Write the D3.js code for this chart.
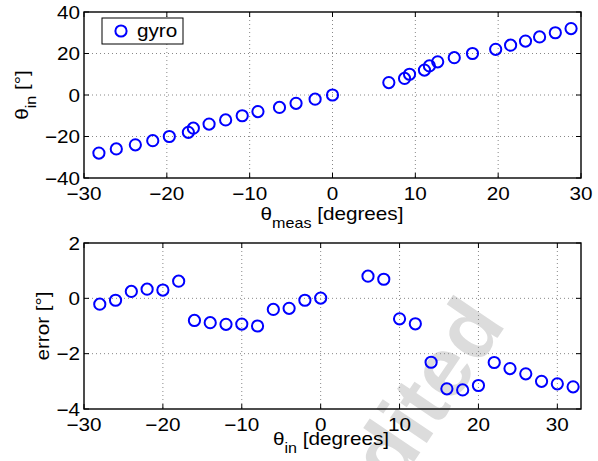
<!DOCTYPE html>
<html>
<head>
<meta charset="utf-8">
<script src="https://cdn.jsdelivr.net/npm/d3@7"></script>
<style>
  html, body { margin: 0; padding: 0; background: #fff; }
  svg { display: block; }
  text { font-family: "Liberation Sans", Arial, Helvetica, sans-serif; fill: #000; }
</style>
</head>
<body>
<svg id="chart" width="598" height="461"></svg>
<script>
// ---- data ----
const thetaIn = [-28,-26,-24,-22,-20,-18,-16,-14,-12,-10,-8,-6,-4,-2,0,6,8,10,12,14,16,18,20,22,24,26,28,30,32];
const thetaMeas = [-28.2,-26.1,-23.8,-21.7,-19.7,-17.4,-16.8,-14.9,-12.9,-10.9,-9.0,-6.4,-4.4,-2.1,0.0,6.8,8.7,9.3,11.1,11.7,12.7,14.7,16.9,19.7,21.5,23.3,25.0,26.9,28.8];
const errorVals = [-0.21,-0.07,0.25,0.33,0.30,0.62,-0.80,-0.88,-0.94,-0.93,-1.00,-0.40,-0.36,-0.07,0.01,0.80,0.69,-0.74,-0.92,-2.31,-3.27,-3.31,-3.15,-2.32,-2.54,-2.73,-3.00,-3.09,-3.20];
const topXTicks = [-30,-20,-10,0,10,20,30];
const topYTicks = [-40,-20,0,20,40];
const botXTicks = [-30,-20,-10,0,10,20,30];
const botYTicks = [-4,-2,0,2];
const legendLabel = "gyro";

const SX = 1.15;      // horizontal text stretch seen in the reference
const FS = 18;
const svg = d3.select("#chart");
const fmt = v => (v < 0 ? "\u2212" + Math.abs(v) : String(v));

function txt(g, x, y, s, anchor, rot) {
  return g.append("text")
    .attr("transform", `translate(${x},${y}) rotate(${rot||0}) scale(${SX},1)`)
    .attr("text-anchor", anchor || "start")
    .attr("font-size", FS)
    .text(s);
}

// watermark (behind everything)
svg.append("text")
  .attr("transform", "translate(507,324) rotate(-56)")
  .attr("text-anchor", "end")
  .attr("font-size", 84)
  .attr("font-weight", "bold")
  .style("fill", "#dcdcdc")
  .text("Unedited");

function panel(cfg) {
  const x = d3.scaleLinear().domain(cfg.xd).range([84, 581]);
  const y = d3.scaleLinear().domain(cfg.yd).range([cfg.bottom, cfg.top]);
  const g = svg.append("g");
  // grid
  g.selectAll(".gx").data(cfg.xt.filter(t => t > cfg.xd[0] && t < cfg.xd[1])).join("line")
    .attr("x1", d => x(d)).attr("x2", d => x(d)).attr("y1", cfg.top).attr("y2", cfg.bottom)
    .attr("stroke", "#888").attr("stroke-width", 1).attr("stroke-dasharray", "1,3");
  g.selectAll(".gy").data(cfg.yt.filter(t => t > cfg.yd[0] && t < cfg.yd[1])).join("line")
    .attr("y1", d => y(d)).attr("y2", d => y(d)).attr("x1", 84).attr("x2", 581)
    .attr("stroke", "#888").attr("stroke-width", 1).attr("stroke-dasharray", "1,3");
  // tick marks (inward, all sides)
  const tl = 5;
  cfg.xt.forEach(t => {
    g.append("line").attr("x1", x(t)).attr("x2", x(t)).attr("y1", cfg.bottom).attr("y2", cfg.bottom - tl).attr("stroke", "#000");
    g.append("line").attr("x1", x(t)).attr("x2", x(t)).attr("y1", cfg.top).attr("y2", cfg.top + tl).attr("stroke", "#000");
    txt(g, x(t), cfg.bottom + 22, fmt(t), "middle");
  });
  cfg.yt.forEach(t => {
    g.append("line").attr("y1", y(t)).attr("y2", y(t)).attr("x1", 84).attr("x2", 84 + tl).attr("stroke", "#000");
    g.append("line").attr("y1", y(t)).attr("y2", y(t)).attr("x1", 581).attr("x2", 581 - tl).attr("stroke", "#000");
    txt(g, 80, y(t) + 6.5, fmt(t), "end");
  });
  // box
  g.append("rect").attr("x", 84).attr("y", cfg.top).attr("width", 581 - 84).attr("height", cfg.bottom - cfg.top)
    .attr("fill", "none").attr("stroke", "#000").attr("stroke-width", 1.4);
  // points
  g.selectAll("circle.pt").data(cfg.xs.map((v, i) => [v, cfg.ys[i]])).join("circle")
    .attr("class", "pt")
    .attr("cx", d => x(d[0])).attr("cy", d => y(d[1])).attr("r", 5.6)
    .attr("fill", "none").attr("stroke", "#0000ff").attr("stroke-width", 2);
  return { g, x, y };
}

const p1 = panel({ xd: [-30, 30], yd: [-40, 40], top: 12, bottom: 178, xt: topXTicks, yt: topYTicks, xs: thetaMeas, ys: thetaIn });
const p2 = panel({ xd: [-30, 33], yd: [-4, 2], top: 243, bottom: 409, xt: botXTicks, yt: botYTicks, xs: thetaIn, ys: errorVals });

// axis labels
function subLabel(x, y, main, sub, rest, rot) {
  const t = svg.append("text")
    .attr("transform", `translate(${x},${y}) rotate(${rot||0}) scale(${SX},1)`)
    .attr("text-anchor", "middle").attr("font-size", FS);
  t.append("tspan").text(main);
  t.append("tspan").attr("dy", 8).attr("font-size", 14).text(sub);
  t.append("tspan").attr("dy", -8).text(rest);
  return t;
}
subLabel(332, 220, "\u03B8", "meas", " [degrees]", 0);
subLabel(331, 445, "\u03B8", "in", " [degrees]", 0);
subLabel(28, 95, "\u03B8", "in", " [\u00B0]", -90);
txt(svg, 49, 326, "error [\u00B0]", "middle", -90);

// legend
const lg = svg.append("g");
lg.append("rect").attr("x", 102).attr("y", 18).attr("width", 81).attr("height", 26)
  .attr("fill", "#fff").attr("stroke", "#000").attr("stroke-width", 1);
lg.append("circle").attr("cx", 121).attr("cy", 31).attr("r", 5.6)
  .attr("fill", "none").attr("stroke", "#0000ff").attr("stroke-width", 2);
txt(lg, 137, 37, legendLabel, "start");
</script>
</body>
</html>
